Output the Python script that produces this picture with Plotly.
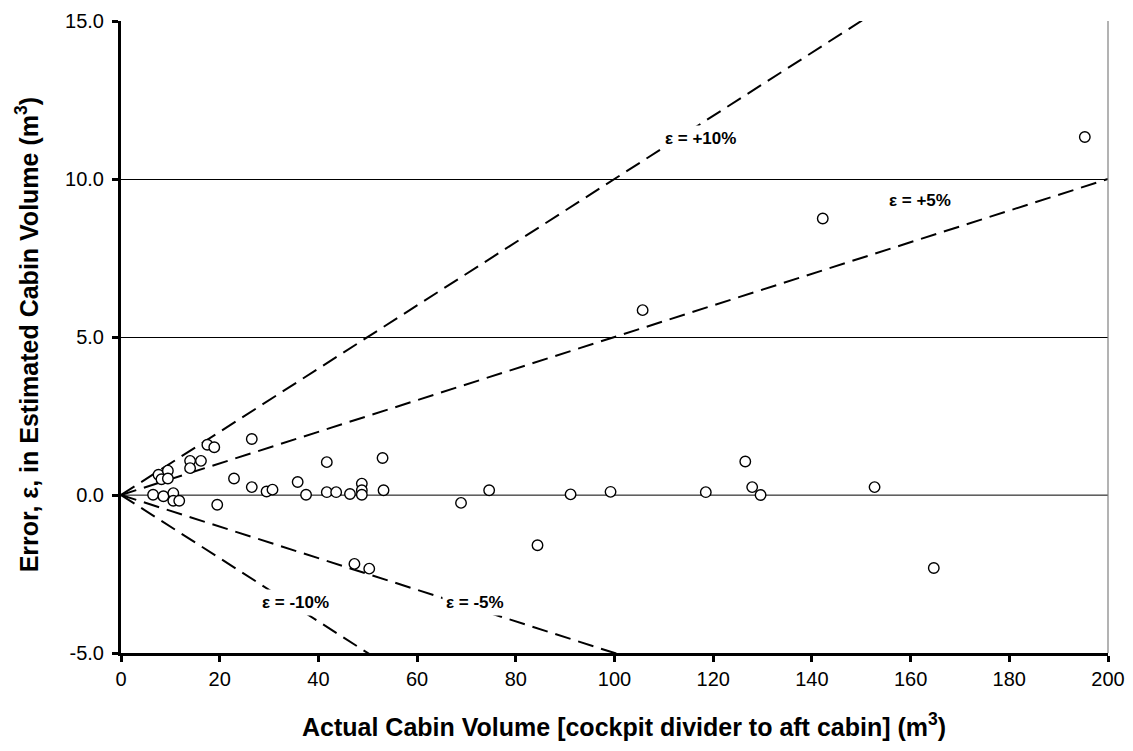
import plotly.graph_objects as go

# Data
actual_volume = [6.5, 7.6, 8.2, 8.6, 9.5, 9.5, 10.6, 10.6, 11.8, 14.0, 14.0, 16.2, 17.5, 18.9,
                 19.5, 22.9, 26.5, 26.5, 29.5, 30.7, 35.8, 37.5, 41.7, 41.7, 43.6, 46.4,
                 48.8, 48.8, 48.8, 53.0, 53.2, 47.3, 50.3, 68.9, 74.6, 84.4, 91.1, 99.2,
                 105.7, 118.5, 126.5, 127.9, 129.6, 142.2, 152.7, 164.7, 195.3]
error = [0.01, 0.64, 0.50, -0.04, 0.77, 0.52, 0.06, -0.18, -0.18, 1.08, 0.85, 1.08, 1.59, 1.51,
         -0.31, 0.52, 1.77, 0.25, 0.11, 0.17, 0.41, 0.01, 1.04, 0.09, 0.09, 0.03,
         0.36, 0.15, 0.01, 1.17, 0.15, -2.18, -2.33, -0.25, 0.15, -1.59, 0.02, 0.10,
         5.85, 0.09, 1.06, 0.25, 0.00, 8.75, 0.25, -2.31, 11.33]

error_pcts = [10, 5, -5, -10]
pct_labels = ["ε = +10%", "ε = +5%", "ε = -5%", "ε = -10%"]
label_x = [117.5, 162.0, 71.7, 35.4]
label_y = [11.28, 9.31, -3.41, -3.41]

x_ticks = list(range(0, 201, 20))
y_ticks = [-5, 0, 5, 10, 15]

x_title = "<b>Actual Cabin Volume [cockpit divider to aft cabin] (m<sup>3</sup>)</b>"
y_title = "<b>Error, ε, in Estimated Cabin Volume (m<sup>3</sup>)</b>"

FONT = "Liberation Sans, Arial, sans-serif"

fig = go.Figure()

# zero reference line (gray)
fig.add_trace(go.Scatter(x=[0, 200], y=[0, 0], mode="lines",
                         line=dict(color="#808080", width=1.6),
                         hoverinfo="skip", showlegend=False))

# percentage error lines
for p in error_pcts:
    xs = [0, 200]
    ys = [0, p / 100 * 200]
    fig.add_trace(go.Scatter(x=xs, y=ys, mode="lines",
                             line=dict(color="black", width=2, dash="16px,8px"),
                             hoverinfo="skip", showlegend=False))

fig.add_trace(go.Scatter(x=actual_volume, y=error, mode="markers",
                         marker=dict(symbol="circle", size=10.5, color="white",
                                     line=dict(color="black", width=1.4)),
                         showlegend=False))

for t, lx, ly in zip(pct_labels, label_x, label_y):
    fig.add_annotation(x=lx, y=ly, text="<b>%s</b>" % t, showarrow=False,
                       font=dict(family=FONT, size=17, color="black"),
                       bgcolor="white", borderpad=3)

# axis titles
fig.add_annotation(xref="paper", yref="paper", x=0.51, y=-0.114, text=x_title,
                   showarrow=False, xanchor="center", yanchor="middle",
                   font=dict(family=FONT, size=25, color="black"))
fig.add_annotation(xref="paper", yref="paper", x=-0.095, y=0.503, text=y_title,
                   showarrow=False, xanchor="center", yanchor="middle", textangle=-90,
                   font=dict(family=FONT, size=25, color="black"))

# right border of plot area
fig.add_shape(type="line", xref="paper", yref="paper", x0=1, x1=1, y0=0, y1=1,
              line=dict(color="#808080", width=1.2))

fig.update_xaxes(range=[0, 200], tickvals=x_ticks, ticktext=[str(v) for v in x_ticks],
                 showgrid=False, zeroline=False, automargin=False,
                 showline=True, linecolor="black", linewidth=3,
                 ticks="outside", ticklen=6, tickwidth=3, tickcolor="black",
                 tickfont=dict(family=FONT, size=20, color="black"))
fig.update_yaxes(range=[-5, 15], tickvals=y_ticks, ticktext=["%.1f" % v for v in y_ticks],
                 showgrid=True, gridcolor="black", gridwidth=1, zeroline=False, automargin=False,
                 showline=True, linecolor="black", linewidth=3,
                 ticks="outside", ticklen=6, tickwidth=3, tickcolor="black",
                 ticklabelstandoff=4,
                 tickfont=dict(family=FONT, size=20, color="black"))

fig.update_layout(width=1117, height=735,
                  margin=dict(l=113, r=17, t=13, b=90),
                  plot_bgcolor="white", paper_bgcolor="white",
                  showlegend=False)

fig.write_html("out.html")
